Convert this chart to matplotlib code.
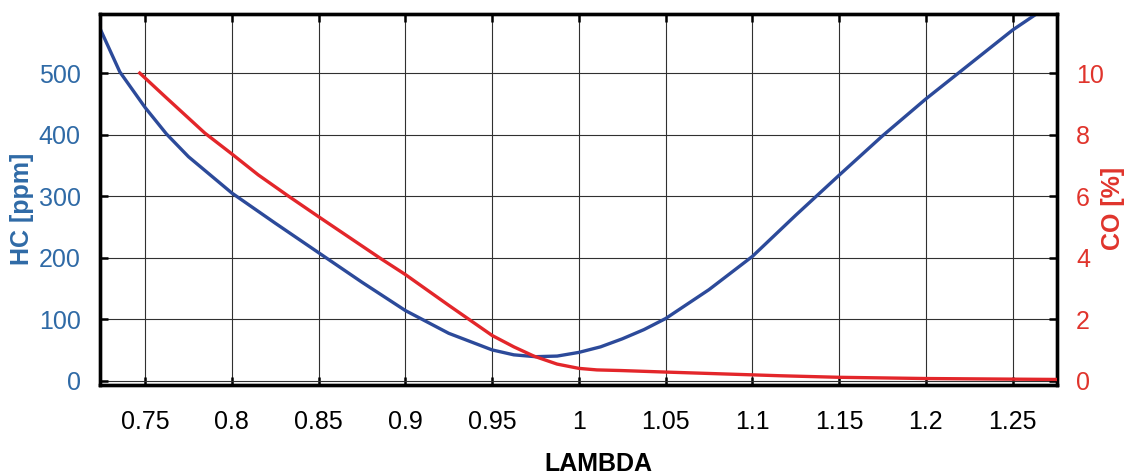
#!/usr/bin/env python3
"""HC and CO emissions versus lambda, two y axes."""

import matplotlib.pyplot as plt
from matplotlib import font_manager

lambda_hc = [0.7239, 0.7354, 0.750, 0.7623, 0.775, 0.8, 0.825, 0.85,
             0.875, 0.9, 0.925, 0.95, 0.9625, 0.975, 0.9875, 1.0,
             1.0125, 1.025, 1.0375, 1.05, 1.075, 1.1, 1.125, 1.15,
             1.175, 1.2, 1.225, 1.25, 1.2642]
hc_ppm = [573, 502, 444, 401, 364, 305, 256, 208,
          160, 114, 77, 50, 42, 39, 40, 46,
          55, 68, 83, 101, 148, 202, 269, 334,
          398, 458, 514, 570, 597]

lambda_co = [0.7469, 0.7614, 0.7844, 0.8, 0.8152, 0.8326, 0.85, 0.8855,
             0.9, 0.925, 0.95, 0.9625, 0.974, 0.9874, 1.0, 1.0104, 1.024,
             1.05, 1.1162, 1.15, 1.2, 1.25, 1.2754]
co_pct = [10.0, 9.24, 8.05, 7.37, 6.69, 6.0, 5.33, 3.98,
          3.45, 2.45, 1.47, 1.10, 0.80, 0.54, 0.40, 0.35, 0.33,
          0.28, 0.16, 0.11, 0.07, 0.05, 0.04]

x_ticks = [0.75, 0.8, 0.85, 0.9, 0.95, 1.0, 1.05, 1.1, 1.15, 1.2, 1.25]
x_labels = ["0.75", "0.8", "0.85", "0.9", "0.95", "1", "1.05", "1.1", "1.15", "1.2", "1.25"]
hc_ticks = [0, 100, 200, 300, 400, 500]
co_ticks = [0, 2, 4, 6, 8, 10]

installed = {f.name for f in font_manager.fontManager.ttflist}
narrow = "Liberation Sans Narrow" if "Liberation Sans Narrow" in installed else "Liberation Sans"
plt.rcParams["font.family"] = [narrow, "DejaVu Sans"]

HC_LINE = "#2c4a9a"
CO_LINE = "#e3262a"
HC_TEXT = "#2f6aa6"
CO_TEXT = "#e0342c"

fig = plt.figure(figsize=(11.25, 4.75), dpi=100)
ax = fig.add_axes([0.0889, 0.1895, 0.9393 - 0.0889, 0.9705 - 0.1895])
ax2 = ax.twinx()

ax.plot(lambda_hc, hc_ppm, color=HC_LINE, linewidth=2.4, zorder=3,
        solid_joinstyle="round")
ax2.plot(lambda_co, co_pct, color=CO_LINE, linewidth=2.4, zorder=3,
         solid_joinstyle="round")

ax.set_xlim(0.724, 1.2754)
ax.set_ylim(-7, 596)
ax2.set_ylim(-7 / 50, 596 / 50)

ax.set_xticks(x_ticks)
ax.set_xticklabels(x_labels)
ax.set_yticks(hc_ticks)
ax2.set_yticks(co_ticks)

ax.grid(True, color="#303030", linewidth=0.8)
ax.set_axisbelow(True)

ax.tick_params(axis="x", direction="in", top=True, length=6, width=1.8,
               labelsize=18, pad=18, colors="black")
ax.tick_params(axis="y", direction="in", length=6, width=1.8,
               labelsize=18, pad=14, colors="black", labelcolor=HC_TEXT)
ax2.tick_params(axis="y", direction="in", length=6, width=1.8,
                labelsize=18, pad=14, colors="black", labelcolor=CO_TEXT)

for spine in list(ax.spines.values()) + list(ax2.spines.values()):
    spine.set_linewidth(2.4)

fig.text(22 / 1125, 1 - 209 / 475, "HC [ppm]", rotation=90, ha="center", va="center",
         fontsize=18, fontweight="bold", color=HC_TEXT)
fig.text(1113 / 1125, 1 - 208 / 475, "CO [%]", rotation=90, ha="center", va="center",
         fontsize=18, fontweight="bold", color=CO_TEXT)
fig.text(598 / 1125, 1 - 452 / 475, "LAMBDA", ha="center", va="top",
         fontsize=18, fontweight="bold", color="black")

fig.savefig("out.png", dpi=100)
